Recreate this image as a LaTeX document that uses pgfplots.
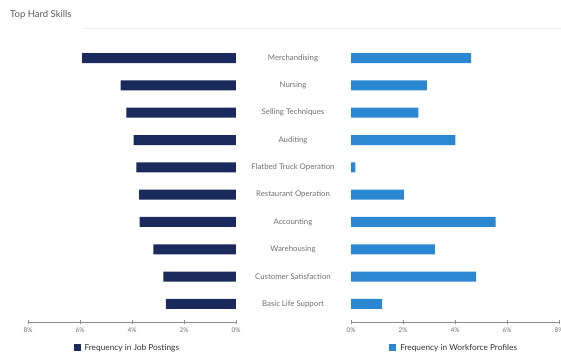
\documentclass[border=0pt]{standalone}
\usepackage{fontspec}
\setmainfont{Lato}
\usepackage{pgfplots}
\pgfplotsset{compat=1.18}
\definecolor{navy}{HTML}{1B2A5C}
\definecolor{blueB}{HTML}{2B87D1}
\definecolor{txt}{HTML}{707070}
\tikzset{lab/.style={font=\fontsize{7.8}{9}\selectfont, text=txt, xshift=57pt}}
\begin{document}
\begin{tikzpicture}
\useasboundingbox (0pt,0pt) rectangle (561pt,356pt);
\node[anchor=west, font=\fontsize{9.5}{11}\selectfont, text=black!65, inner sep=0] at (10pt,341pt) {Top Hard Skills};
\draw[black!7, line width=0.8pt] (85pt,328pt) -- (561pt,328pt);
\pgfplotsset{common/.style={
  scale only axis, width=208pt, height=282pt,
  xmin=0, xmax=8, ymin=-0.66, ymax=9.66, y dir=reverse,
  xbar, bar width=10pt, bar shift=0pt,
  axis x line*=bottom, axis y line=none,
  x axis line style={-, draw=black!45, line width=0.6pt},
  xtick={0,2,4,6,8},
  xticklabel={\pgfmathprintnumber{\tick}\%},
  tick align=center, major tick length=4pt,
  xtick style={draw=black!45, line width=0.6pt},
  ticklabel style={font=\fontsize{6.5}{7}\selectfont, text=txt},
  /pgf/number format/assume math mode=true,
  legend style={draw=none, fill=none, font=\fontsize{8.3}{10}\selectfont, text=black!80, anchor=west, inner sep=0pt},
  legend image code/.code={\fill[##1, draw=none] (0pt,-3pt) rectangle (7pt,4pt);},
  legend cell align=left,
}}
\begin{axis}[common, at={(28pt,34pt)}, anchor=south west, x dir=reverse, clip=false,
  legend style={at={(axis description cs:0.218,-0.092)}}]
\addplot[fill=navy, draw=none] coordinates {
 (5.92,0) (4.44,1) (4.22,2) (3.94,3) (3.83,4) (3.73,5) (3.71,6) (3.18,7) (2.79,8) (2.70,9)};
\addlegendentry{\hspace{2pt}Frequency in Job Postings}
\node[lab] at (axis cs:0,0) {Merchandising};
\node[lab] at (axis cs:0,1) {Nursing};
\node[lab] at (axis cs:0,2) {Selling Techniques};
\node[lab] at (axis cs:0,3) {Auditing};
\node[lab] at (axis cs:0,4) {Flatbed Truck Operation};
\node[lab] at (axis cs:0,5) {Restaurant Operation};
\node[lab] at (axis cs:0,6) {Accounting};
\node[lab] at (axis cs:0,7) {Warehousing};
\node[lab] at (axis cs:0,8) {Customer Satisfaction};
\node[lab] at (axis cs:0,9) {Basic Life Support};
\end{axis}
\begin{axis}[common, at={(351pt,34pt)}, anchor=south west,
  legend style={at={(axis description cs:0.183,-0.092)}}]
\addplot[fill=blueB, draw=none] coordinates {
 (4.62,0) (2.92,1) (2.59,2) (4.01,3) (0.17,4) (2.03,5) (5.56,6) (3.23,7) (4.81,8) (1.20,9)};
\addlegendentry{\hspace{2pt}Frequency in Workforce Profiles}
\end{axis}
\end{tikzpicture}
\end{document}
